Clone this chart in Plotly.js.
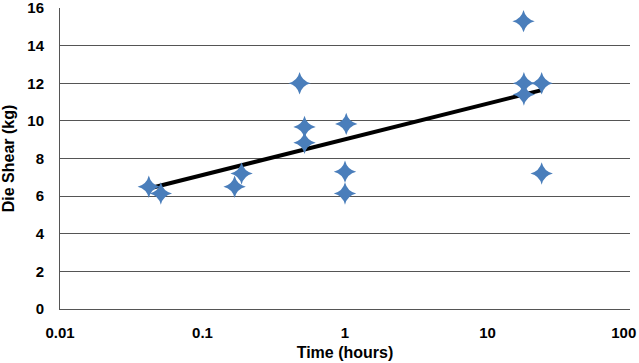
<!DOCTYPE html>
<html><head><meta charset="utf-8">
<script src="https://cdn.plot.ly/plotly-3.0.1.min.js"></script>
<style>html,body{margin:0;padding:0;background:#fff}#c{width:639px;height:363px}</style>
</head><body><div id="c"></div>
<script>
const timeHours = [0.042, 0.051, 0.168, 0.188, 0.48, 0.52, 0.52, 1.02, 1.0, 1.0, 17.9, 18, 18, 24, 24];
const dieShearKg = [6.5, 6.14, 6.5, 7.2, 12.0, 9.68, 8.84, 9.84, 7.3, 6.14, 15.3, 12.0, 11.4, 12.0, 7.2];
const xTickVals = [0.01, 0.1, 1, 10, 100];
const xTickText = ['0.01', '0.1', '1', '10', '100'];
const yTickVals = [0, 2, 4, 6, 8, 10, 12, 14, 16];

// logarithmic trend line fitted to the data (y = a*ln(x) + b)
const lx = timeHours.map(v => Math.log(v));
const n = lx.length;
const mx = lx.reduce((s, v) => s + v, 0) / n;
const my = dieShearKg.reduce((s, v) => s + v, 0) / n;
let sxy = 0, sxx = 0;
for (let i = 0; i < n; i++) { sxy += (lx[i] - mx) * (dieShearKg[i] - my); sxx += (lx[i] - mx) ** 2; }
const a = sxy / sxx, b = my - a * mx;
const xmin = Math.min(...timeHours), xmax = Math.max(...timeHours);
const trendX = [], trendY = [];
for (let i = 0; i <= 50; i++) {
  const x = Math.exp(Math.log(xmin) + (Math.log(xmax) - Math.log(xmin)) * i / 50);
  trendX.push(x); trendY.push(a * Math.log(x) + b);
}

// last x label is nudged left (as in the reference) so it stays inside the page
const xTickLabels = xTickText.map((t, i) => '<b>' + t + '</b>' + (i === xTickText.length - 1 ? '&nbsp;&nbsp;&nbsp;' : ''));

const data = [
  {x: trendX, y: trendY, mode: 'lines', line: {color: '#000', width: 4}, hoverinfo: 'skip', showlegend: false},
  {x: timeHours, y: dieShearKg, mode: 'markers', showlegend: false,
   marker: {symbol: 'star-diamond', size: 16, color: '#4A7EBB', line: {width: 0}}}
];
const fam = 'Liberation Sans, Arial, sans-serif';
const layout = {
  width: 639, height: 363,
  margin: {l: 60, r: 9, t: 8, b: 54},
  paper_bgcolor: '#fff', plot_bgcolor: '#fff',
  font: {family: fam, size: 15, color: '#000'},
  showlegend: false,
  xaxis: {type: 'log', range: [-2, 2], tickvals: xTickVals, ticktext: xTickLabels,
    showgrid: false, zeroline: false, showline: true, linecolor: '#555', linewidth: 1,
    ticks: '', ticklabelstandoff: 10, ticklabeloverflow: 'allow',
    tickfont: {family: fam, size: 15, color: '#000'},
    title: {text: '<b>Time (hours)</b>', font: {family: fam, size: 16, color: '#000'}, standoff: 6}},
  yaxis: {range: [0, 16], tickvals: yTickVals, ticktext: yTickVals.map(t => '<b>' + t + '</b>'),
    showgrid: true, gridcolor: '#555', gridwidth: 1,
    zeroline: false, showline: true, linecolor: '#555', linewidth: 1, ticks: '',
    ticklabelstandoff: 12, ticklabeloverflow: 'allow',
    tickfont: {family: fam, size: 15, color: '#000'},
    title: {text: '<b>Die Shear (kg)</b>', font: {family: fam, size: 16, color: '#000'}, standoff: 8}}
};
Plotly.newPlot('c', data, layout, {displayModeBar: false, staticPlot: true});
</script></body></html>
